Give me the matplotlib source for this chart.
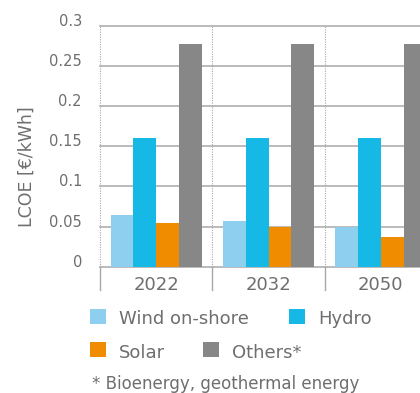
import matplotlib
matplotlib.use("Agg")
import matplotlib.pyplot as plt
from matplotlib.patches import Rectangle
import numpy as np

years = ["2022", "2032", "2050"]
series = ["Wind on-shore", "Hydro", "Solar", "Others*"]
wind = [0.065, 0.057, 0.050]
hydro = [0.160, 0.160, 0.160]
solar = [0.055, 0.050, 0.037]
others = [0.277, 0.277, 0.277]
yticks = [0, 0.05, 0.1, 0.15, 0.2, 0.25, 0.3]
ytick_labels = ["0", "0.05", "0.1", "0.15", "0.2", "0.25", "0.3"]
footnote = "* Bioenergy, geothermal energy"

COLORS = ["#8ecfef", "#16b9e6", "#f08c00", "#878787"]
TXT = "#6e6e6e"
GRID = "#a8a8a8"
W, H = 420, 393


def fx(x):
    return x / W


def fy(y):
    return 1 - y / H


fig = plt.figure(figsize=(W / 100, H / 100), dpi=100)
ax = fig.add_axes([fx(100), fy(266.7), 337 / W, 240.7 / H])
ax.set_xlim(0, 3)
ax.set_ylim(0, 0.3)
for s in ax.spines.values():
    s.set_visible(False)

# grid: solid horizontals, dotted verticals between groups
for t in yticks:
    ax.axhline(t, color=GRID, lw=1.1, zorder=1, clip_on=False)
for i in range(len(years) + 1):
    ax.plot([i, i], [0, 0.3], color=GRID, lw=0.8, ls=(0, (1, 1.2)), zorder=1, clip_on=False)
    ax.plot([i, i], [0, -0.097], color=GRID, lw=1.0, zorder=1, clip_on=False,
            transform=ax.get_xaxis_transform())

bw = 0.202
x = np.arange(len(years)) + 0.5
for k, vals in enumerate([wind, hydro, solar, others]):
    ax.bar(x + (k - 1.5) * bw, vals, width=bw, color=COLORS[k], zorder=2, lw=0)

ax.set_xticks([])
ax.set_yticks(yticks)
ax.set_yticklabels(ytick_labels)
ax.tick_params(axis="y", length=0, pad=13, labelsize=10.5, labelcolor=TXT)
for lab in ax.get_yticklabels():
    lab.set_verticalalignment("baseline")

for xi, yr in zip(x, years):
    ax.text(xi, -0.097, yr, transform=ax.get_xaxis_transform(), ha="center",
            va="baseline", fontsize=13, color=TXT)

fig.text(fx(27), fy(167), "LCOE [€/kWh]", rotation=90, ha="center", va="center",
         fontsize=12.5, color=TXT)

# legend, laid out by hand in two uneven rows
legend_pos = [(90, 309, 119, 324), (289, 309, 318, 324),
              (90, 342, 119, 358), (203, 342, 232, 358)]
for (sx, sy, tx, ty), name, c in zip(legend_pos, series, COLORS):
    fig.patches.append(Rectangle((fx(sx), fy(sy + 15)), 16 / W, 15 / H,
                                 transform=fig.transFigure, color=c, lw=0))
    fig.text(fx(tx), fy(ty), name, ha="left", va="baseline", fontsize=13, color=TXT)
fig.text(fx(92), fy(389), footnote, ha="left", va="baseline", fontsize=12, color=TXT)

fig.savefig("out.png", dpi=100)
